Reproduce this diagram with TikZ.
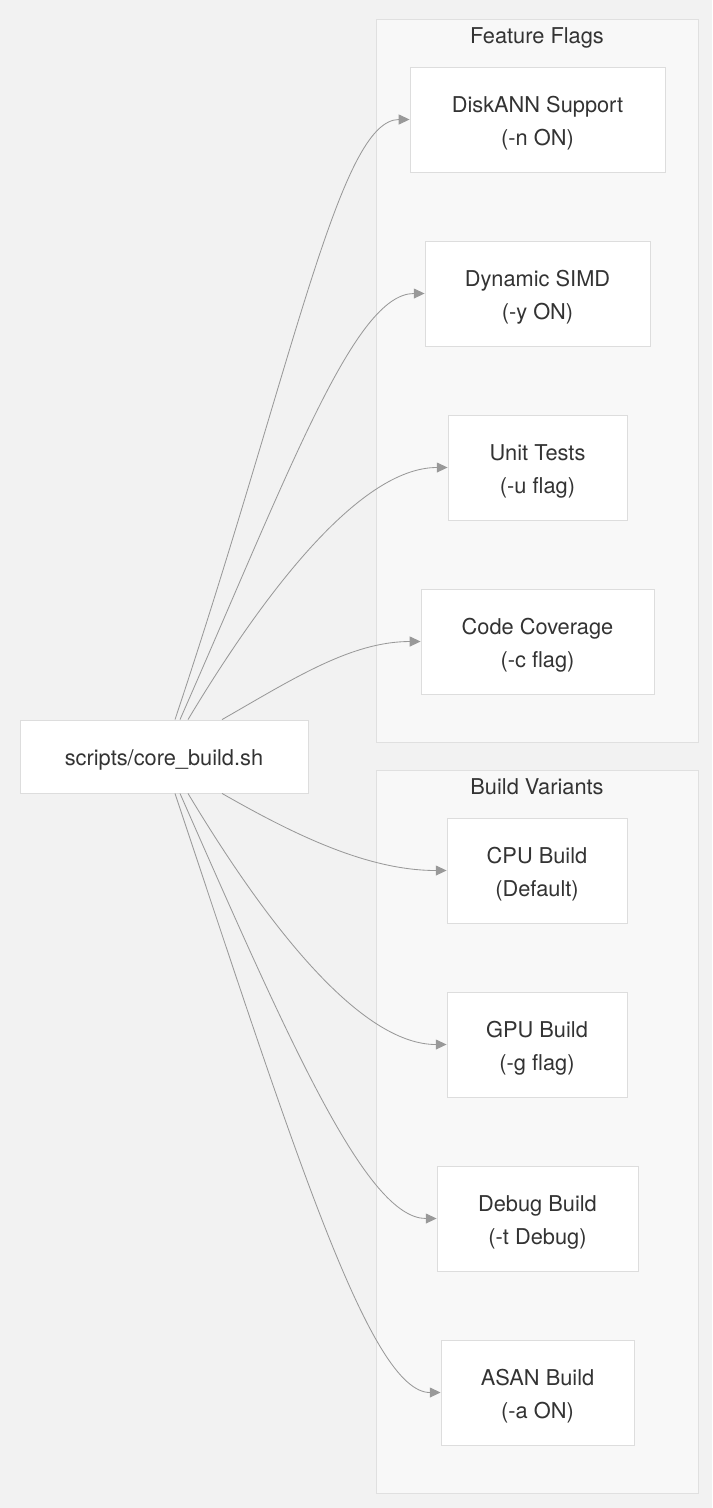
\documentclass[tikz,border=0pt]{standalone}
\usepackage{fontspec}
\setmainfont{TeX Gyre Heros}
\usepackage{xcolor}
\usepackage{tikz}
\usetikzlibrary{arrows.meta}

\definecolor{bgcol}{HTML}{F2F2F2}
\definecolor{clusterfill}{HTML}{F8F8F8}
\definecolor{clusterline}{HTML}{E0E0E0}
\definecolor{nodeline}{HTML}{DDDDDD}
\definecolor{edgecol}{HTML}{999999}
\definecolor{txtcol}{HTML}{333333}

\begin{document}
\begin{tikzpicture}[x=0.025cm, y=0.025cm,
    every node/.style={font=\fontsize{15.5}{23.5}\selectfont, text=txtcol},
    flag/.style={rectangle, draw=nodeline, fill=white, line width=0.6pt, minimum height=2.625cm, align=center, text height=40pt, text depth=3.3pt},
    cluster/.style={draw=clusterline, fill=clusterfill, line width=0.6pt},
    arrow/.style={-{Triangle[length=0.27cm, width=0.25cm]}, draw=edgecol, line width=0.6pt}
]

\fill[bgcol] (0,0) rectangle (712,-1508);

% groups
\draw[cluster] (376,-19) rectangle (698,-742);
\node[anchor=base] (fftitle) at (537,-43.5) {Feature Flags};
\draw[cluster] (376,-770) rectangle (698,-1493);
\node[anchor=base] (bvtitle) at (537,-794.5) {Build Variants};

\node[flag, minimum height=1.825cm, minimum width=7.2cm, text height=16pt] (core) at (164,-756.5) {scripts/core\_build.sh};

\node[flag, minimum width=6.375cm] (disk) at (537.5,-119.5) {DiskANN Support\\(-n ON)};
\node[flag, minimum width=5.625cm] (simd) at (537.5,-293.5) {Dynamic SIMD\\(-y ON)};
\node[flag, minimum width=4.475cm] (unit) at (537.5,-467.5) {Unit Tests\\(-u flag)};
\node[flag, minimum width=5.825cm] (cov) at (537.5,-641.5) {Code Coverage\\(-c flag)};

\node[flag, minimum width=4.5cm] (cpu) at (537,-870.5) {CPU Build\\(Default)};
\node[flag, minimum width=4.5cm] (gpu) at (537,-1044.5) {GPU Build\\(-g flag)};
\node[flag, minimum width=5.025cm] (dbg) at (537.5,-1218.5) {Debug Build\\(-t Debug)};
\node[flag, minimum width=4.825cm] (asan) at (537.5,-1392.5) {ASAN Build\\(-a ON)};

\draw[arrow] ([xshift=0.275cm]core.north) .. controls +(120,360) and +(-70,0) .. (disk.west);
\draw[arrow] ([xshift=0.4cm]core.north) .. controls +(110,250) and +(-70,0) .. (simd.west);
\draw[arrow] ([xshift=0.6cm]core.north) .. controls +(90,150) and +(-80,0) .. (unit.west);
\draw[arrow] ([xshift=1.45cm]core.north) .. controls +(70,40) and +(-70,0) .. (cov.west);

\draw[arrow] ([xshift=1.45cm]core.south) .. controls +(70,-40) and +(-80,0) .. (cpu.west);
\draw[arrow] ([xshift=0.6cm]core.south) .. controls +(90,-150) and +(-80,0) .. (gpu.west);
\draw[arrow] ([xshift=0.4cm]core.south) .. controls +(110,-250) and +(-70,0) .. (dbg.west);
\draw[arrow] ([xshift=0.275cm]core.south) .. controls +(120,-360) and +(-70,0) .. (asan.west);

\end{tikzpicture}
\end{document}
